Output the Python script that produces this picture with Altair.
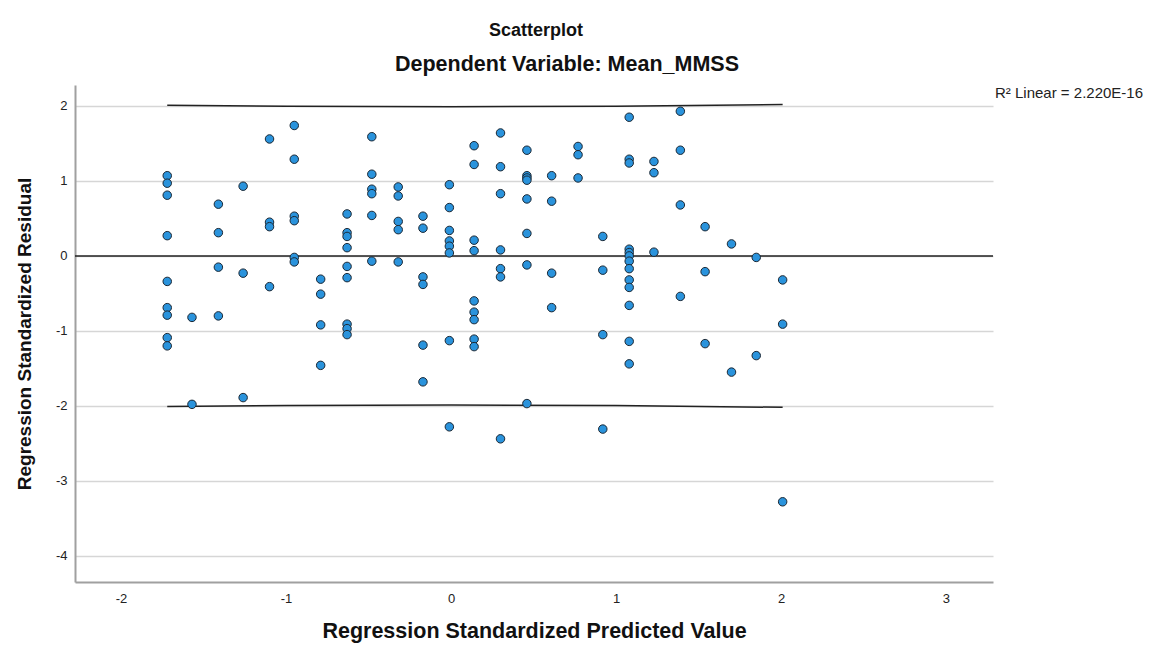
import altair as alt
import pandas as pd

# Discrete predicted values (x columns)
pred_values = [-1.72, -1.57, -1.41, -1.26, -1.10, -0.95, -0.79, -0.63, -0.48, -0.32,
               -0.17, -0.01, 0.14, 0.30, 0.46, 0.61, 0.77, 0.92, 1.08, 1.23,
               1.39, 1.54, 1.70, 1.85, 2.01]

# Standardized residuals for each predicted-value column
residuals_by_pred = [
    [1.07, 0.97, 0.81, 0.27, -0.34, -0.69, -0.79, -1.09, -1.20],
    [-0.82, -1.98],
    [0.69, 0.31, -0.15, -0.80],
    [0.93, -0.23, -1.89],
    [1.56, 0.45, 0.39, -0.41],
    [1.74, 1.29, 0.53, 0.47, -0.02, -0.08],
    [-0.31, -0.51, -0.92, -1.46],
    [0.56, 0.31, 0.26, 0.11, -0.14, -0.29, -0.91, -0.97, -1.05],
    [1.59, 1.09, 0.89, 0.83, 0.54, -0.07],
    [0.92, 0.80, 0.46, 0.35, -0.08],
    [0.53, 0.37, -0.28, -0.38, -1.19, -1.68],
    [0.95, 0.645, 0.34, 0.20, 0.13, 0.04, -1.13, -2.28],
    [1.47, 1.22, 0.21, 0.07, -0.60, -0.75, -0.85, -1.11, -1.21],
    [1.64, 1.19, 0.83, 0.08, -0.17, -0.28, -2.44],
    [1.41, 1.07, 1.04, 1.01, 0.76, 0.30, -0.12, -1.97],
    [1.07, 0.73, -0.23, -0.69],
    [1.46, 1.35, 1.04],
    [0.26, -0.19, -1.05, -2.31],
    [1.85, 1.29, 1.24, 0.09, 0.045, 0.0, -0.07, -0.17, -0.32, -0.42, -0.66, -1.14, -1.44],
    [1.26, 1.11, 0.05],
    [1.93, 1.41, 0.68, -0.54],
    [0.39, -0.21, -1.17],
    [0.16, -1.55],
    [-0.02, -1.33],
    [-0.32, -0.91, -3.28],
]

x_ticks = [-2, -1, 0, 1, 2, 3]
y_ticks = [-4, -3, -2, -1, 0, 1, 2]

# Prediction-interval lines
band_x = [-1.72, -1.0, 0.0, 1.0, 2.01]
band_upper = [2.01, 1.995, 1.99, 1.995, 2.02]
band_lower = [-2.01, -1.995, -1.99, -1.995, -2.02]

fit_value = [0.0]
r2_label = ["R\u00b2 Linear = 2.220E-16"]
main_title = ["Scatterplot"]
sub_title = ["Dependent Variable: Mean_MMSS"]

rows = []
for xv, ys in zip(pred_values, residuals_by_pred):
    for yv in ys:
        rows.append({"pred": xv, "resid": yv})
points_df = pd.DataFrame(rows)

band_rows = []
for xv, u, l in zip(band_x, band_upper, band_lower):
    band_rows.append({"pred": xv, "resid": u, "line": "upper"})
    band_rows.append({"pred": xv, "resid": l, "line": "lower"})
band_df = pd.DataFrame(band_rows)

FONT = "Liberation Sans"
LABEL_EXPR = "'' + datum.value"

xscale = alt.Scale(domain=[-2.279, 3.285], nice=False, zero=False)
yscale = alt.Scale(domain=[-4.35, 2.28], nice=False, zero=False)

x_axis = alt.Axis(
    values=x_ticks, labelExpr=LABEL_EXPR, title="Regression Standardized Predicted Value",
    grid=False, ticks=False, labelFontSize=13, labelPadding=10, labelFont=FONT,
    labelColor="#222222", titleFont=FONT, titleFontSize=21.5, titleFontWeight="bold",
    titleColor="#111111", titlePadding=15, domainColor="#a0a0a0", domainWidth=2,
)
y_axis = alt.Axis(
    values=y_ticks, labelExpr=LABEL_EXPR, title="Regression Standardized Residual",
    grid=True, gridColor="#d6d6d6", gridWidth=1.6, ticks=False, labelFontSize=13,
    labelPadding=8, labelFont=FONT, labelColor="#222222", titleFont=FONT,
    titleFontSize=19, titleFontWeight="bold", titleColor="#111111",
    titleX=-51, titleBaseline="middle",
    domainColor="#a0a0a0", domainWidth=2,
)

base_points = alt.Chart(points_df).mark_circle(
    size=72, color="#2a93dc", opacity=1, stroke="#1b2733", strokeWidth=1
).encode(
    x=alt.X("pred:Q", scale=xscale, axis=x_axis),
    y=alt.Y("resid:Q", scale=yscale, axis=y_axis),
)

bands = alt.Chart(band_df).mark_line(color="#222222", strokeWidth=1.5).encode(
    x=alt.X("pred:Q", scale=xscale),
    y=alt.Y("resid:Q", scale=yscale),
    detail="line:N",
)

fit_line = alt.Chart(pd.DataFrame({"resid": fit_value})).mark_rule(
    color="#222222", strokeWidth=1.5
).encode(y=alt.Y("resid:Q", scale=yscale))

r2_text = alt.Chart(pd.DataFrame({"label": r2_label})).mark_text(
    align="left", baseline="middle", font=FONT, fontSize=15, color="#222222"
).encode(text="label:N", x=alt.value(920), y=alt.value(8))

title_text = alt.Chart(pd.DataFrame({"label": main_title})).mark_text(
    align="center", baseline="middle", font=FONT, fontSize=18, fontWeight="bold",
    color="#111111"
).encode(text="label:N", x=alt.value(461), y=alt.value(-54))

subtitle_text = alt.Chart(pd.DataFrame({"label": sub_title})).mark_text(
    align="center", baseline="middle", font=FONT, fontSize=21.5, fontWeight="bold",
    color="#111111"
).encode(text="label:N", x=alt.value(492), y=alt.value(-20))

chart = alt.layer(
    fit_line, bands, base_points, r2_text, title_text, subtitle_text
).properties(
    width=918,
    height=497,
    padding={"left": 67, "top": 77, "right": 150, "bottom": 61},
    autosize="none",
).configure(background="white").configure_view(stroke=None)

chart.save("out.html", embed_options={"renderer": "svg", "actions": False})
